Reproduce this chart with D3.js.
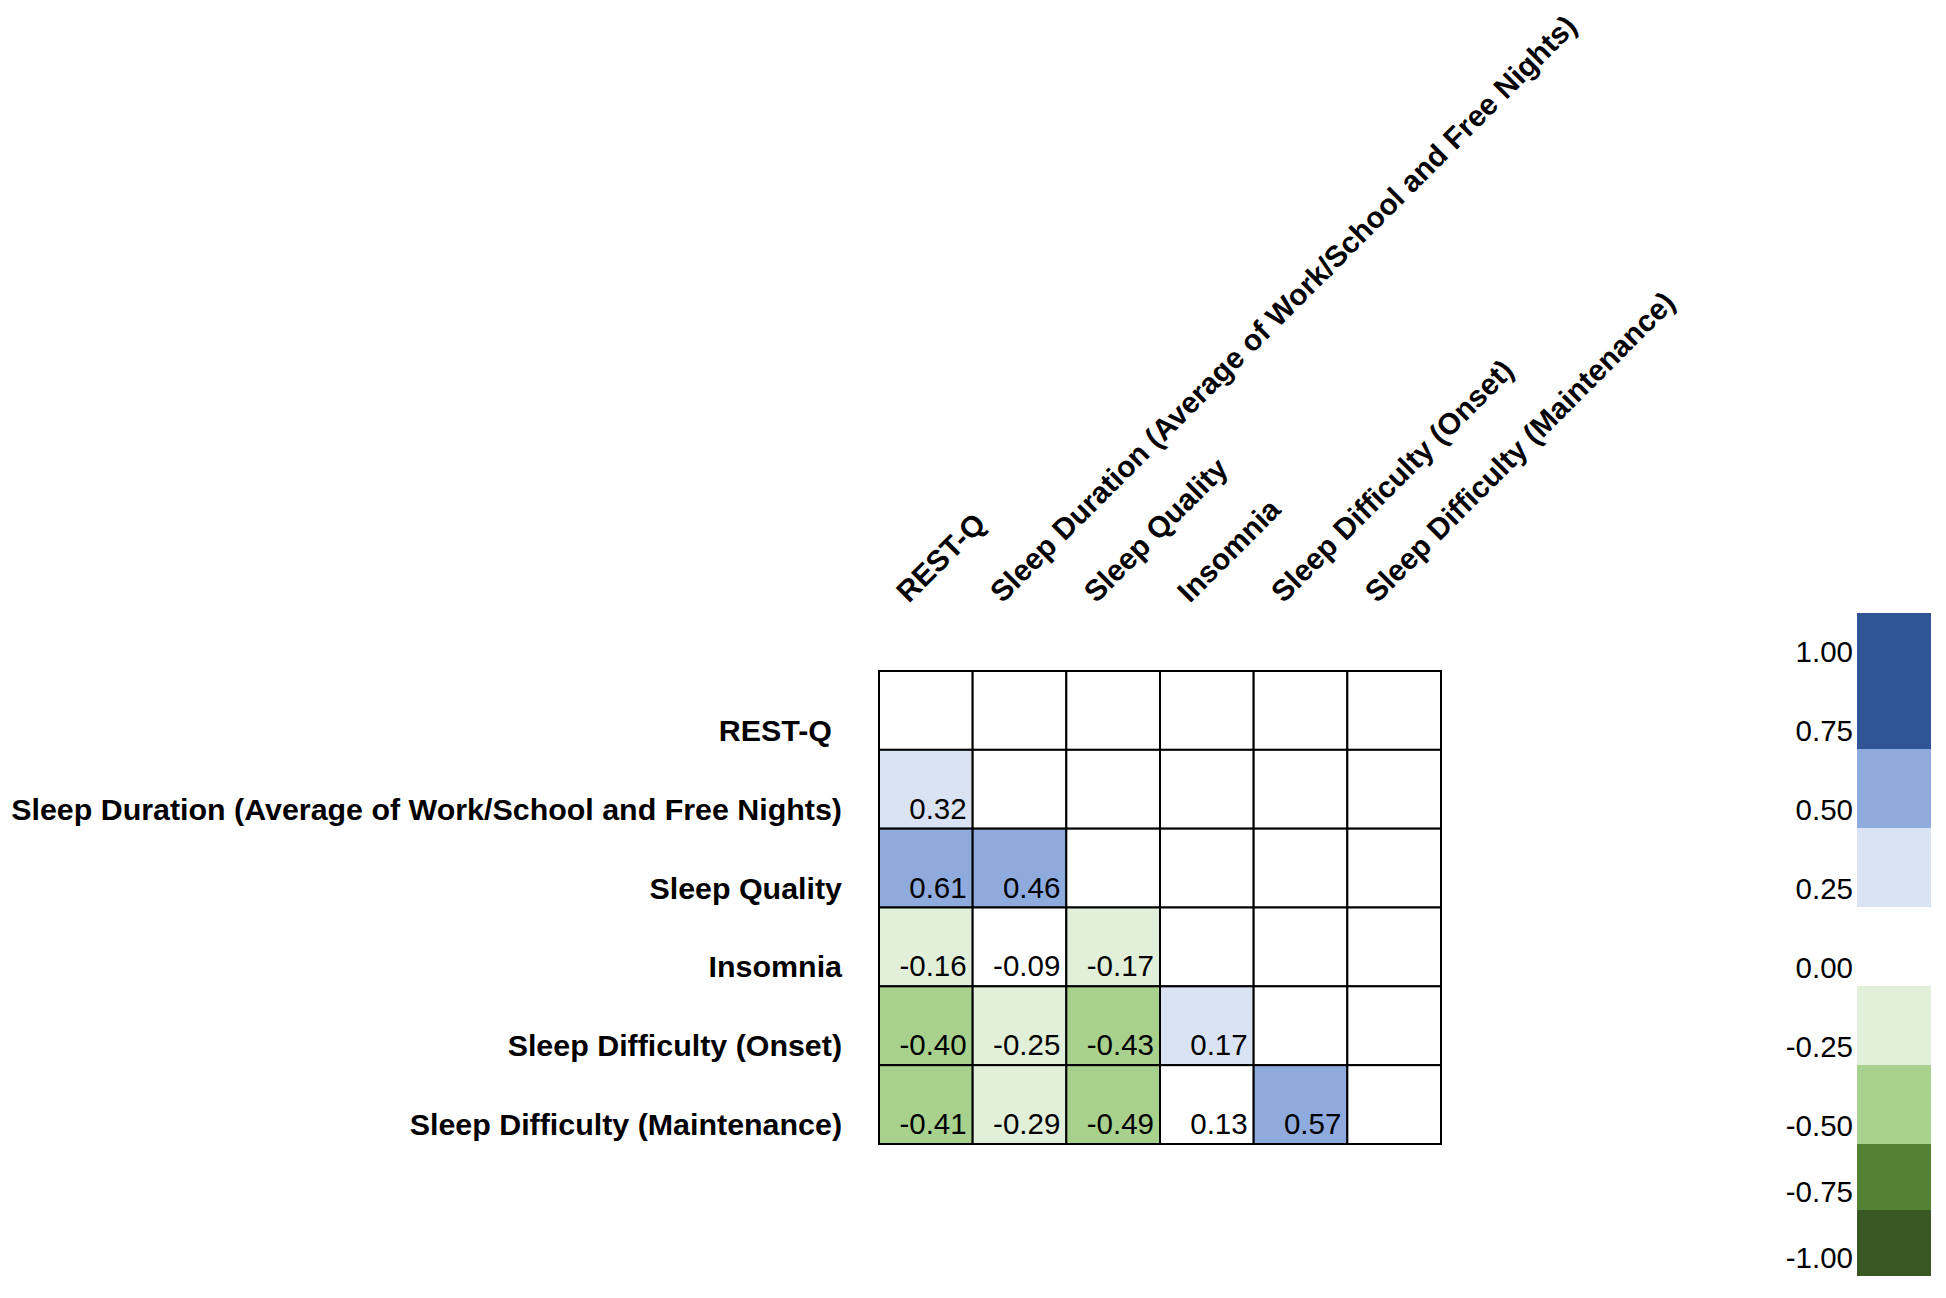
<!DOCTYPE html>
<html>
<head>
<meta charset="utf-8">
<script src="https://cdn.jsdelivr.net/npm/d3@7"></script>
<style>
  body { margin: 0; background: #fff; }
  svg { display: block; font-family: "Liberation Sans", Arial, sans-serif; }
</style>
</head>
<body>
<svg id="chart"></svg>
<script>
// variable names, same order for rows and columns
const variables = [
  "REST-Q",
  "Sleep Duration (Average of Work/School and Free Nights)",
  "Sleep Quality",
  "Insomnia",
  "Sleep Difficulty (Onset)",
  "Sleep Difficulty (Maintenance)"
]

// lower triangle of the correlation matrix, row by row
const correlations = [
  [],
  [0.32],
  [0.61, 0.46],
  [-0.16, -0.09, -0.17],
  [-0.40, -0.25, -0.43, 0.17],
  [-0.41, -0.29, -0.49, 0.13, 0.57]
]

// legend tick labels
const legendTicks = [1.00, 0.75, 0.50, 0.25, 0.00, -0.25, -0.50, -0.75, -1.00]

// colour bins: thresholds for cells and the colours used
const binThresholds = [-0.875, -0.625, -0.375, -0.15, 0.15, 0.375, 0.625]
const binColors = ["#385723", "#548235", "#a9d18e", "#e2f0d9", "#ffffff", "#dae3f3", "#8faadc", "#2f5597"]

// legend blocks as [upper value, lower value]
const legendBins = [
  [1.18, 0.75], [0.75, 0.50], [0.50, 0.25], [0.25, 0.00],
  [0.00, -0.25], [-0.25, -0.50], [-0.50, -0.75], [-0.75, -1.00]
]
const legendBinColors = ["#2f5597", "#8faadc", "#dae3f3", "#ffffff", "#e2f0d9", "#a9d18e", "#548235", "#385723"]

var width = 1946
var height = 1298

const svg = d3.select("#chart")
  .attr("width", width)
  .attr("height", height)

let x = d3.scaleBand()
  .domain(variables)
  .range([879, 1441])

let y = d3.scaleBand()
  .domain(variables)
  .range([671, 1144])

let color = d3.scaleThreshold()
  .domain(binThresholds)
  .range(binColors)

// flatten into cells, empty for diagonal and upper triangle
var cells = []
variables.forEach((rowName, i) => {
  variables.forEach((colName, j) => {
    cells.push({
      row: rowName,
      col: colName,
      value: j < i ? correlations[i][j] : null
    })
  })
})

const cell = svg.append("g")
  .attr("id", "cells")
  .selectAll("g")
  .data(cells)
  .join("g")

cell.append("rect")
  .attr("x", d => x(d.col))
  .attr("y", d => y(d.row))
  .attr("width", x.bandwidth())
  .attr("height", y.bandwidth())
  .attr("fill", d => d.value === null ? "#fff" : color(d.value))
  .attr("stroke", "#000")
  .attr("stroke-width", 2)

cell.filter(d => d.value !== null)
  .append("text")
  .attr("x", d => x(d.col) + x.bandwidth() - 6)
  .attr("y", d => y(d.row) + y.bandwidth() - 10)
  .attr("text-anchor", "end")
  .attr("font-size", 29.5)
  .attr("fill", "#000")
  .text(d => d3.format(".2f")(d.value).replace("−", "-"))

// row labels on the left (REST-Q sits a little further left in the original)
svg.append("g")
  .attr("id", "rowlabels")
  .selectAll("text")
  .data(variables)
  .join("text")
  .attr("x", (d, i) => i === 0 ? 832 : 842)
  .attr("y", d => y(d) + y.bandwidth() - 9)
  .attr("text-anchor", "end")
  .attr("font-size", 30.4)
  .attr("font-weight", "bold")
  .text(d => d)

// column labels, rotated 45 degrees
svg.append("g")
  .attr("id", "collabels")
  .selectAll("text")
  .data(variables)
  .join("text")
  .attr("transform", d => `translate(${x(d) + x.bandwidth() / 2 - 17},604) rotate(-45)`)
  .attr("text-anchor", "start")
  .attr("font-size", 29.8)
  .attr("font-weight", "bold")
  .text(d => d)

// legend: label baselines follow a piecewise scale
let ly = d3.scaleLinear()
  .domain([1.18, 1, -0.5, -1])
  .range([605, 662, 1136, 1268])

const legend = svg.append("g").attr("id", "legend")

legend.selectAll("rect")
  .data(legendBins)
  .join("rect")
  .attr("x", 1857)
  .attr("width", 74)
  .attr("y", d => ly(d[0]) + 8)
  .attr("height", d => ly(d[1]) - ly(d[0]))
  .attr("fill", (d, i) => legendBinColors[i])

legend.selectAll("text")
  .data(legendTicks)
  .join("text")
  .attr("x", 1853)
  .attr("y", d => ly(d))
  .attr("text-anchor", "end")
  .attr("font-size", 29.5)
  .attr("fill", "#000")
  .text(d => d3.format(".2f")(d).replace("−", "-"))
</script>
</body>
</html>
